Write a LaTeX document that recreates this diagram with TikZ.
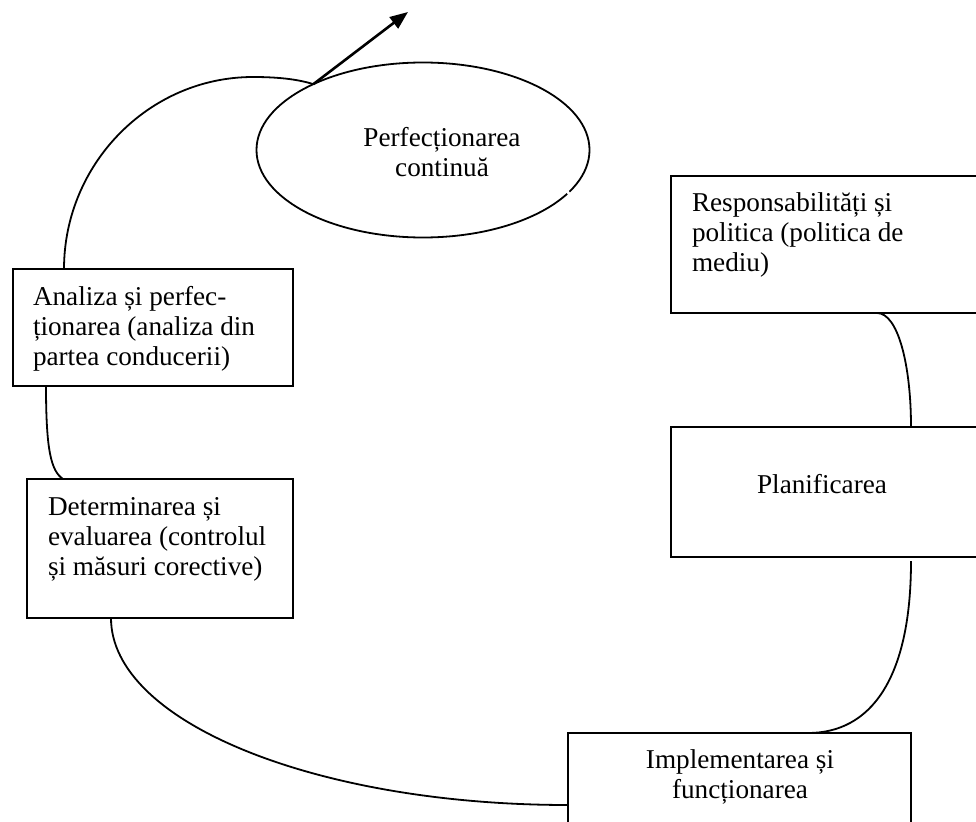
\documentclass[tikz,border=0pt]{standalone}
\usepackage{fontspec}
\setmainfont{Liberation Serif}
\usetikzlibrary{shapes.geometric,arrows.meta,calc}

\tikzset{
  box/.style={draw, line width=1.8pt, rectangle, inner sep=0pt, outer sep=0pt},
  oval/.style={draw, line width=1.8pt, ellipse, inner sep=0pt, outer sep=0pt},
  link/.style={line width=1.8pt},
  label/.style={inner sep=0pt, outer sep=0pt,
    font=\fontsize{27.2}{30}\selectfont},
  pointer/.style={line width=2.6pt, -{Triangle[length=18pt,width=14pt]}}
}

\begin{document}
\begin{tikzpicture}[x=1pt, y=-1pt]
  \useasboundingbox (0,0) rectangle (976,821);
  \clip (0,0) rectangle (976,821);

  % stages of the cycle
  \node[oval, minimum width=333pt, minimum height=175pt] (ell) at (423,150) {};
  \node[box, minimum width=280pt, minimum height=117pt] (ana)  at (153,327.5) {};
  \node[box, minimum width=266pt, minimum height=139pt] (det)  at (160,548.5) {};
  \node[box, minimum width=319pt, minimum height=137pt] (resp) at (830.5,244.5) {};
  \node[box, minimum width=319pt, minimum height=130pt] (plan) at (830.5,492) {};
  \node[box, minimum width=343pt, minimum height=117pt] (impl) at (739.5,791.5) {};

  % small break in the outline of the oval
  \draw[white, line width=2.8pt] (565,189) -- (572,197);

  % labels (anchored on the baseline of their last line)
  \node[label, anchor=base, align=center] (tell) at (442,176)
    {Perfecționarea\\continuă};
  \node[label, anchor=base west, align=left] (tana) at (33,365)
    {Analiza și perfec-\\ționarea (analiza din\\partea conducerii)};
  \node[label, anchor=base west, align=left] (tdet) at (48,575)
    {Determinarea și\\evaluarea (controlul\\și măsuri corective)};
  \node[label, anchor=base west, align=left] (tresp) at (692,271)
    {Responsabilități și\\politica (politica de\\mediu)};
  \node[label, anchor=base] (tplan) at (822,493) {Planificarea};
  \node[label, anchor=base, align=center] (timpl) at (740,798)
    {Implementarea și\\funcționarea};

  % connectors
  \coordinate (tip) at (408,12);
  \draw[pointer] (ell.149) -- (tip);
  \draw[link] ($(ana.north west)+(51,0)$)
    .. controls (64,164) and (149,77) .. (253,77)
    .. controls (282,77) and (300,80) .. (ell.149);
  \draw[link] ($(ana.south west)+(33,0)$)
    .. controls (46,450) and (51,471) .. ($(det.north west)+(36,0)$);
  \draw[link] ($(det.south west)+(84,0)$)
    .. controls (111,722) and (316,805) .. ($(impl.north west)+(0,72)$);
  \draw[link] ($(resp.south west)+(206,0)$)
    .. controls (898,313) and (911,365) .. ($(plan.north west)+(240,0)$);
  \draw[link] ($(plan.south west)+(240,4)$)
    .. controls (911,680) and (870,733) .. ($(impl.north west)+(240,0)$);
\end{tikzpicture}
\end{document}
